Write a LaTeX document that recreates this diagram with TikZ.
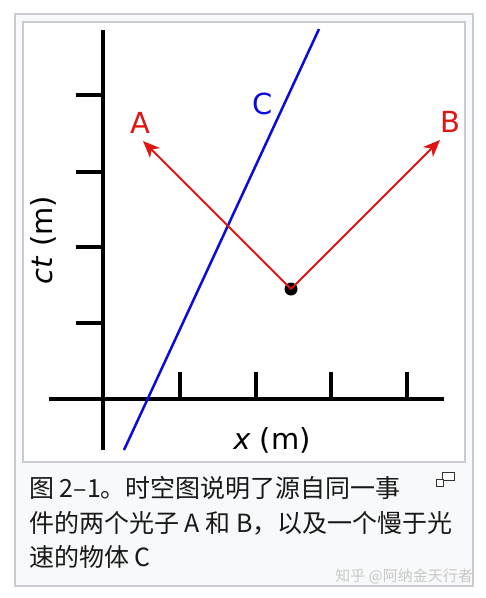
\documentclass[tikz,border=0pt]{standalone}
\usepackage{fontspec}
\setmainfont{DejaVu Sans}
\newfontfamily\cjk{Noto Sans CJK SC}
\usetikzlibrary{arrows.meta}
\definecolor{framegray}{HTML}{C8CCD1}
\definecolor{capbg}{HTML}{F8F9FA}
\definecolor{photred}{RGB}{225,20,20}
\definecolor{objblue}{RGB}{10,10,220}
\definecolor{wmgray}{RGB}{200,200,200}
\tikzset{
  axisline/.style={line width=4pt, black},
  photon/.style={photred, line width=2pt, -{Stealth[length=17pt,width=14pt,inset=5pt]}},
  worldline/.style={objblue, line width=2.5pt},
  lbl/.style={font=\fontsize{29}{31}\selectfont, inner sep=0pt},
  captxt/.style={font=\cjk\fontsize{25}{28}\selectfont, anchor=west, inner sep=0pt, text=black!90},
}
\begin{document}
\begin{tikzpicture}[x=1pt,y=-1pt]
\useasboundingbox (0,0) rectangle (486,598);
\fill[white] (0,0) rectangle (486,598);
% frames
\draw[framegray, fill=capbg, line width=1.5pt] (15,14) rectangle (473,586);
\draw[framegray, fill=white, line width=1.2pt] (23,22) rectangle (465,462);
% axes
\coordinate (ytop) at (103,30);
\coordinate (ybot) at (103,450);
\coordinate (xl) at (49,399);
\coordinate (xr) at (444,399);
\draw[axisline] (ybot) -- (ytop);
\draw[axisline] (xl) -- (xr);
\foreach \yy [count=\i] in {95,172,247,323}{
  \coordinate (yt\i) at (103,\yy);
  \draw[axisline] (yt\i) -- ++(-27,0);
}
\foreach \xx [count=\i] in {180,256,331,407}{
  \coordinate (xt\i) at (\xx,399);
  \draw[axisline] (xt\i) -- ++(0,-27);
}
% world line C
\coordinate (cb) at (124,450);
\coordinate (ct) at (319,29);
\draw[worldline] (cb) -- (ct);
% event and photons
\node[circle, fill=black, inner sep=0pt, minimum size=13pt] (ev) at (291,289) {};
\coordinate (atip) at (143,141);
\coordinate (btip) at (440,140);
\draw[photon] (ev.center) -- (atip);
\draw[photon] (ev.center) -- (btip);
% labels
\node[lbl, text=photred] (la) at (140,123) {A};
\node[lbl, text=photred] (lb) at (450,122) {B};
\node[lbl, text=objblue] (lc) at (263,104) {C};
\node[lbl, rotate=90] (lct) at (43,240) {\textit{ct} (m)};
\node[lbl] (lx) at (272,440) {\textit{x} (m)};
% caption
\node[captxt] (c1) at (29,488) {图 2–1。时空图说明了源自同一事};
\node[captxt] (c2) at (29,523) {件的两个光子 A 和 B，以及一个慢于光};
\node[captxt] (c3) at (29,557) {速的物体 C};
% enlarge icon
\draw[black!80, line width=1pt, fill=white] (442,472) rectangle (454,480);
\draw[black!80, line width=1pt, fill=white] (436,479) rectangle (443,486);
% watermark
\node[font=\cjk\fontsize{15}{16}\selectfont, text=wmgray, anchor=east, inner sep=0pt] (wm) at (473,576) {知乎 @阿纳金天行者};
\end{tikzpicture}
\end{document}
